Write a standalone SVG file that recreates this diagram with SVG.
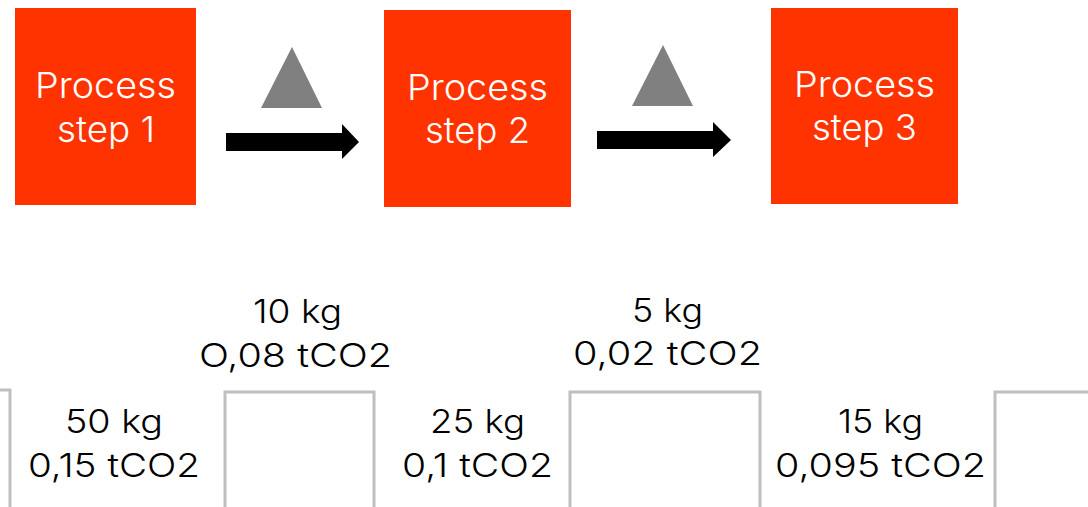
<svg xmlns="http://www.w3.org/2000/svg" width="1088" height="507" viewBox="0 0 1088 507">
<style>
.step{fill:#ff3300}
.st{fill:#ffffff;font-family:Inter,"Liberation Sans",sans-serif;font-size:36px;font-weight:300;text-anchor:middle}
.lb{fill:#000000;font-family:Inter,"Liberation Sans",sans-serif;font-size:33px;font-weight:300;text-anchor:middle}
.tri{fill:#808080}
.arr{fill:#000000}
.bin{fill:none;stroke:#bfbfbf;stroke-width:3}
</style>
<rect width="1088" height="507" fill="#ffffff"/>
<g id="step1"><rect class="step" x="15" y="8" width="181" height="197"/><text class="st" x="105.5" y="98" textLength="141" lengthAdjust="spacingAndGlyphs">Process</text><text class="st" x="106" y="142" textLength="98" lengthAdjust="spacingAndGlyphs">step 1</text></g>
<g id="step2"><rect class="step" x="384" y="10" width="187" height="197"/><text class="st" x="477.5" y="100" textLength="141" lengthAdjust="spacingAndGlyphs">Process</text><text class="st" x="477.5" y="143" textLength="105" lengthAdjust="spacingAndGlyphs">step 2</text></g>
<g id="step3"><rect class="step" x="771" y="8" width="187" height="196"/><text class="st" x="864.5" y="97" textLength="141" lengthAdjust="spacingAndGlyphs">Process</text><text class="st" x="864.5" y="140" textLength="105" lengthAdjust="spacingAndGlyphs">step 3</text></g>
<g id="connectors">
<polygon class="tri" points="292,47 322,108 261,108"/>
<polygon class="arr" points="226,133 342,133 342,124 359,142 342,159 342,151 226,151"/>
<polygon class="tri" points="663,45 693,106 632,106"/>
<polygon class="arr" points="597,131 713,131 713,122 731,140 713,157 713,149 597,149"/>
</g>
<g id="bins">
<path class="bin" d="M-5,390 H10 V510"/>
<path class="bin" d="M225,510 V392 H374 V510"/>
<path class="bin" d="M570,510 V392 H760 V510"/>
<path class="bin" d="M995,510 V392 H1095"/>
</g>
<g id="labels">
<text class="lb" x="114" y="433" textLength="98" lengthAdjust="spacingAndGlyphs">50 kg</text><text class="lb" x="114" y="477" textLength="172" lengthAdjust="spacingAndGlyphs">0,15 tCO2</text>
<text class="lb" x="297.5" y="323" textLength="89" lengthAdjust="spacingAndGlyphs">10 kg</text><text class="lb" x="295.5" y="367" textLength="193" lengthAdjust="spacingAndGlyphs">O,08 tCO2</text>
<text class="lb" x="477.5" y="433" textLength="95" lengthAdjust="spacingAndGlyphs">25 kg</text><text class="lb" x="477.5" y="477" textLength="151" lengthAdjust="spacingAndGlyphs">0,1 tCO2</text>
<text class="lb" x="667.5" y="322" textLength="71" lengthAdjust="spacingAndGlyphs">5 kg</text><text class="lb" x="667.5" y="365" textLength="189" lengthAdjust="spacingAndGlyphs">0,02 tCO2</text>
<text class="lb" x="880.5" y="433" textLength="85" lengthAdjust="spacingAndGlyphs">15 kg</text><text class="lb" x="880.5" y="477" textLength="211" lengthAdjust="spacingAndGlyphs">0,095 tCO2</text>
</g>
</svg>
